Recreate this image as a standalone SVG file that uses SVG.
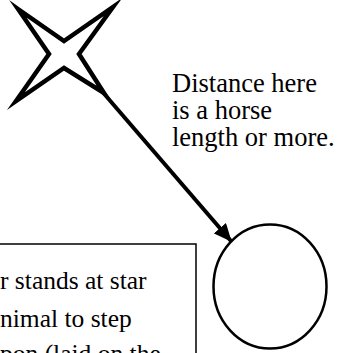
<svg xmlns="http://www.w3.org/2000/svg" width="347" height="353" viewBox="0 0 347 353">
<style>
text { font-family: "Liberation Serif", "Times New Roman", serif; fill: #000; }
.lbl { font-size: 26.5px; }
.box { font-size: 25.5px; }
</style>
<defs>
<marker id="ah" markerUnits="userSpaceOnUse" markerWidth="18" markerHeight="16" refX="17" refY="8" orient="auto">
<path d="M0,0 L18,8 L0,16 Z" fill="#000"/>
</marker>
</defs>
<rect width="347" height="353" fill="#fff"/>
<g id="star">
<polygon points="18,9 64,41 113,7 79,54 104,93 64,68 16,101 49,54" fill="#fff" stroke="#000" stroke-width="4.5" stroke-linejoin="miter" stroke-miterlimit="20"/>
</g>
<g id="circle">
<ellipse cx="270" cy="286.5" rx="56.5" ry="62" fill="#fff" stroke="#000" stroke-width="2.5"/>
</g>
<g id="note">
<text class="lbl" x="172" y="92">Distance here</text>
<text class="lbl" x="172" y="119">is a horse</text>
<text class="lbl" x="172" y="146">length or more.</text>
</g>
<g id="box">
<rect x="-5" y="244" width="201" height="130" fill="#fff" stroke="#000" stroke-width="1.5"/>
<text class="box" x="0" y="289">r stands at star</text>
<text class="box" x="0" y="327">nimal to step</text>
<text class="box" x="0" y="362">pon (laid on the</text>
</g>
<g id="connectors">
<line x1="100" y1="89" x2="231" y2="241" stroke="#000" stroke-width="4" marker-end="url(#ah)"/>
</g>
</svg>
